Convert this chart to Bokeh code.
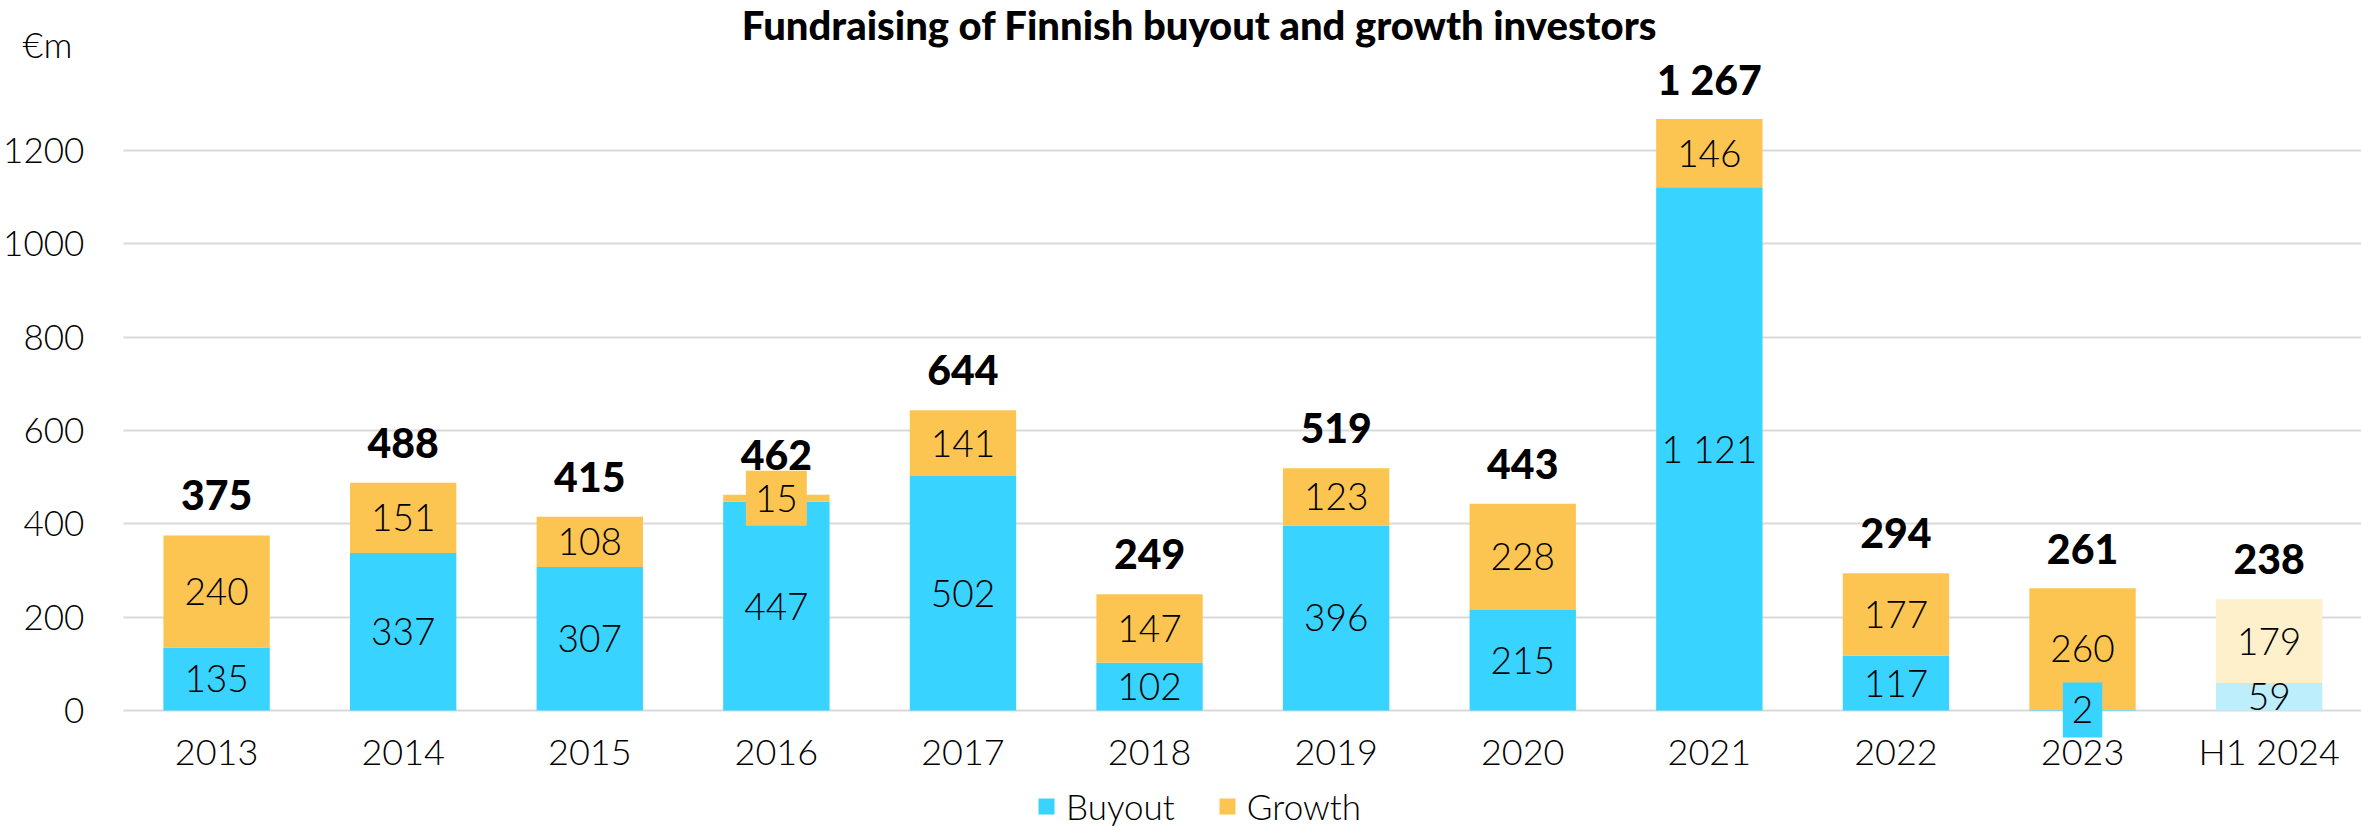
from bokeh.plotting import figure
from bokeh.models import Range1d, Label, Legend, LegendItem, ColumnDataSource, FixedTicker
from bokeh.core.properties import value
from bokeh.embed import file_html
from bokeh.resources import INLINE

# ---- data ----
years = ["2013", "2014", "2015", "2016", "2017", "2018", "2019", "2020",
         "2021", "2022", "2023", "H1 2024"]
buyout = [135, 337, 307, 447, 502, 102, 396, 215, 1121, 117, 2, 59]
growth = [240, 151, 108, 15, 141, 147, 123, 228, 146, 177, 260, 179]
totals = [375, 488, 415, 462, 644, 249, 519, 443, 1267, 294, 261, 238]
preliminary = [False] * 11 + [True]
y_ticks = [0, 200, 400, 600, 800, 1000, 1200]

title_text = "Fundraising of Finnish buyout and growth investors"
unit_text = "€m"

# ---- styles ----
BLUE, ORANGE = "#38D3FE", "#FCC552"
BLUE_L, ORANGE_L = "#BDEEFB", "#FFF0CC"
LIGHT = "Lato Light"
HEAVY = "Lato Black"
W, H = 2361, 828
X0, X1 = -1.158, 11.495      # visible index range (frame spans whole canvas)
Y0, Y1 = -253, 1521          # visible value range


def fmt(v):
    return f"{v:,}".replace(",", " ")


xs = list(range(len(years)))
stack_top = [b + g for b, g in zip(buyout, growth)]
bcol = [BLUE_L if p else BLUE for p in preliminary]
gcol = [ORANGE_L if p else ORANGE for p in preliminary]

bars = ColumnDataSource(dict(x=xs, buyout=buyout, top=stack_top, bcol=bcol, gcol=gcol))

# segment labels: small non-preliminary segments get a coloured box
norm = dict(x=[], y=[], t=[])
boxed = dict(x=[], y=[], t=[], bg=[])
for i in xs:
    for lo, v, col in ((0, buyout[i], bcol[i]), (buyout[i], growth[i], gcol[i])):
        d = boxed if (v < 50 and not preliminary[i]) else norm
        d["x"].append(i)
        d["y"].append(lo + v / 2)
        d["t"].append(fmt(v))
        if d is boxed:
            d["bg"].append(col)

tot = ColumnDataSource(dict(x=xs, y=totals, t=[fmt(v) for v in totals]))

p = figure(width=W, height=H,
           x_range=Range1d(X0, X1), y_range=Range1d(Y0, Y1),
           output_backend="svg", toolbar_location=None,
           min_border=0, min_border_top=0, min_border_bottom=0,
           min_border_left=0, min_border_right=0)
p.outline_line_color = None
p.background_fill_color = "white"
p.border_fill_color = "white"

rb = p.vbar(x="x", bottom=0, top="buyout", width=0.57, fill_color="bcol",
            line_color=None, source=bars)
rg = p.vbar(x="x", bottom="buyout", top="top", width=0.57, fill_color="gcol",
            line_color=None, source=bars)

p.text(x="x", y="y", text="t", source=ColumnDataSource(norm),
       text_align="center", text_baseline="middle",
       text_font=value(LIGHT), text_font_size="37px", text_color="#000000")
p.text(x="x", y="y", text="t", source=ColumnDataSource(boxed),
       text_align="center", text_baseline="middle",
       text_font=value(LIGHT), text_font_size="37px", text_color="#000000",
       background_fill_color="bg", padding=(9, 14))
p.text(x="x", y="y", text="t", source=tot,
       text_align="center", text_baseline="alphabetic", y_offset=-40,
       text_font=value(HEAVY), text_font_size="41px", text_color="#000000")

# axes, fixed inside the full-canvas frame
p.xaxis.fixed_location = 0
p.xaxis.ticker = FixedTicker(ticks=xs)
p.xaxis.major_label_overrides = {i: y for i, y in enumerate(years)}
p.xaxis.major_label_text_font = LIGHT
p.xaxis.major_label_text_font_size = "36px"
p.xaxis.major_label_text_color = "#000000"
p.xaxis.major_label_standoff = 13
p.yaxis.fixed_location = -0.5
p.yaxis.ticker = FixedTicker(ticks=y_ticks)
p.yaxis.major_label_text_font = LIGHT
p.yaxis.major_label_text_font_size = "35px"
p.yaxis.major_label_text_color = "#000000"
p.yaxis.major_label_standoff = 33
for ax in (p.xaxis, p.yaxis):
    ax.axis_line_color = None
    ax.major_tick_line_color = None
    ax.minor_tick_line_color = None

p.xgrid.visible = False
grid = p.ygrid[0]
grid.ticker = FixedTicker(ticks=y_ticks)
grid.grid_line_color = "#D9D9D9"
grid.grid_line_width = 2
if "cross_bounds" in grid.properties():
    grid.cross_bounds = (-0.5, X1)
else:
    p.quad(left=X0, right=-0.5, bottom=Y0, top=Y1, fill_color="white", line_color=None)

# title and unit (screen units from the bottom-left of the canvas)
p.add_layout(Label(x=1199, y=804, x_units="screen", y_units="screen",
                   text=title_text, text_align="center", text_baseline="alphabetic",
                   text_font=HEAVY, text_font_size="40px", text_color="#000000"))
p.add_layout(Label(x=22, y=785, x_units="screen", y_units="screen",
                   text=unit_text, text_align="left", text_baseline="alphabetic",
                   text_font=LIGHT, text_font_size="36px", text_color="#000000"))

legend = Legend(items=[LegendItem(label="Buyout", renderers=[rb], index=0),
                       LegendItem(label="Growth", renderers=[rg], index=0)],
                orientation="horizontal", location=(1036, 1),
                border_line_color=None, background_fill_alpha=0,
                padding=0, margin=0, spacing=42, label_standoff=10,
                glyph_width=20, glyph_height=20,
                label_text_font=LIGHT, label_text_font_size="35px",
                label_text_color="#000000")
p.add_layout(legend)

open("out.html", "w").write(file_html(p, INLINE))
